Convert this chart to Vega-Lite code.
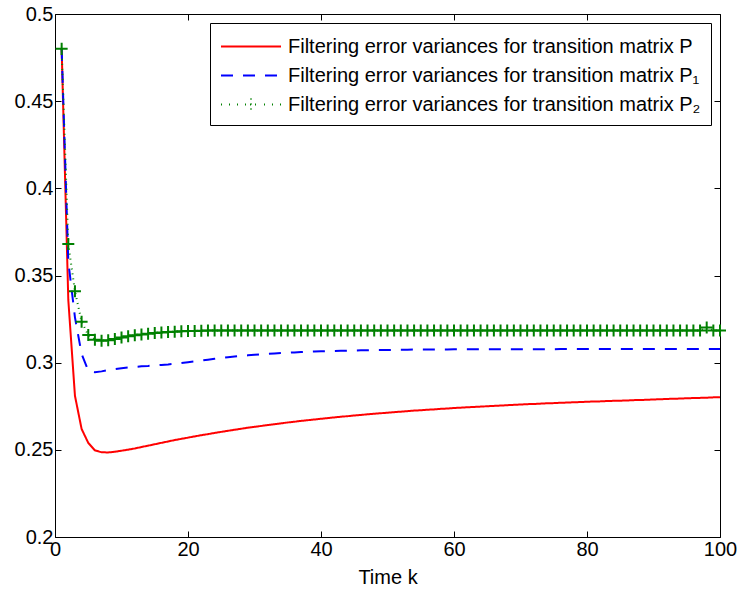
{
  "$schema": "https://vega.github.io/schema/vega-lite/v6.json",
  "width": 665,
  "height": 523,
  "autosize": "none",
  "padding": {"left": 55, "top": 14, "right": 17, "bottom": 53},
  "background": "white",
  "config": {
    "font": "Liberation Sans",
    "view": {"stroke": "black", "strokeWidth": 1},
    "axis": {
      "grid": false,
      "domainColor": "black",
      "tickColor": "black",
      "labelColor": "black",
      "titleColor": "black",
      "labelFont": "Liberation Sans",
      "titleFont": "Liberation Sans",
      "labelFontSize": 20,
      "titleFontSize": 20,
      "titleFontWeight": "normal"
    }
  },
  "data": {
    "values": [
      {"k":1,"a":0.480,"b":0.480,"c":0.480},
      {"k":2,"a":0.336,"b":0.358,"c":0.368},
      {"k":3,"a":0.281,"b":0.326,"c":0.341},
      {"k":4,"a":0.262,"b":0.305,"c":0.3235},
      {"k":5,"a":0.254,"b":0.2955,"c":0.3158},
      {"k":6,"a":0.2497,"b":0.2945,"c":0.3132},
      {"k":7,"a":0.2486,"b":0.2950,"c":0.3126},
      {"k":8,"a":0.2485,"b":0.2957,"c":0.3129},
      {"k":9,"a":0.2489,"b":0.2963,"c":0.3136},
      {"k":10,"a":0.2495,"b":0.2968,"c":0.3144},
      {"k":11,"a":0.2501,"b":0.2972,"c":0.3151},
      {"k":12,"a":0.2508,"b":0.2976,"c":0.3157},
      {"k":13,"a":0.2516,"b":0.2979,"c":0.3162},
      {"k":14,"a":0.2524,"b":0.2981,"c":0.3166},
      {"k":15,"a":0.2532,"b":0.2984,"c":0.3170},
      {"k":16,"a":0.2540,"b":0.2987,"c":0.3173},
      {"k":17,"a":0.2548,"b":0.2990,"c":0.3176},
      {"k":18,"a":0.2556,"b":0.2994,"c":0.3178},
      {"k":19,"a":0.2563,"b":0.2998,"c":0.3180},
      {"k":20,"a":0.2570,"b":0.3003,"c":0.3181},
      {"k":21,"a":0.2577,"b":0.3007,"c":0.3182},
      {"k":22,"a":0.2584,"b":0.3012,"c":0.3183},
      {"k":23,"a":0.2590,"b":0.3017,"c":0.3184},
      {"k":24,"a":0.2597,"b":0.3022,"c":0.3184},
      {"k":25,"a":0.2603,"b":0.3027,"c":0.3185},
      {"k":26,"a":0.2609,"b":0.3031,"c":0.3185},
      {"k":27,"a":0.2615,"b":0.3035,"c":0.3185},
      {"k":28,"a":0.2621,"b":0.3039,"c":0.3185},
      {"k":29,"a":0.2627,"b":0.3042,"c":0.3185},
      {"k":30,"a":0.2632,"b":0.3045,"c":0.3185},
      {"k":31,"a":0.2637,"b":0.3048,"c":0.3185},
      {"k":32,"a":0.2642,"b":0.3051,"c":0.3185},
      {"k":33,"a":0.2647,"b":0.3053,"c":0.3185},
      {"k":34,"a":0.2652,"b":0.3055,"c":0.3185},
      {"k":35,"a":0.2657,"b":0.3057,"c":0.3185},
      {"k":36,"a":0.2661,"b":0.3059,"c":0.3185},
      {"k":37,"a":0.2666,"b":0.3061,"c":0.3185},
      {"k":38,"a":0.2670,"b":0.3063,"c":0.3185},
      {"k":39,"a":0.2674,"b":0.3064,"c":0.3185},
      {"k":40,"a":0.2678,"b":0.3065,"c":0.3185},
      {"k":41,"a":0.2682,"b":0.3066,"c":0.3185},
      {"k":42,"a":0.2686,"b":0.3067,"c":0.3185},
      {"k":43,"a":0.2690,"b":0.3068,"c":0.3185},
      {"k":44,"a":0.2693,"b":0.3069,"c":0.3185},
      {"k":45,"a":0.2697,"b":0.3070,"c":0.3185},
      {"k":46,"a":0.2700,"b":0.3071,"c":0.3185},
      {"k":47,"a":0.2704,"b":0.3071,"c":0.3185},
      {"k":48,"a":0.2707,"b":0.3072,"c":0.3185},
      {"k":49,"a":0.2710,"b":0.3072,"c":0.3185},
      {"k":50,"a":0.2713,"b":0.3073,"c":0.3185},
      {"k":51,"a":0.2716,"b":0.3073,"c":0.3185},
      {"k":52,"a":0.2719,"b":0.3074,"c":0.3185},
      {"k":53,"a":0.2722,"b":0.3074,"c":0.3185},
      {"k":54,"a":0.2725,"b":0.3075,"c":0.3185},
      {"k":55,"a":0.2727,"b":0.3075,"c":0.3185},
      {"k":56,"a":0.2730,"b":0.3075,"c":0.3185},
      {"k":57,"a":0.2732,"b":0.3076,"c":0.3185},
      {"k":58,"a":0.2735,"b":0.3076,"c":0.3185},
      {"k":59,"a":0.2737,"b":0.3076,"c":0.3185},
      {"k":60,"a":0.2740,"b":0.3077,"c":0.3185},
      {"k":61,"a":0.2742,"b":0.3077,"c":0.3185},
      {"k":62,"a":0.2744,"b":0.3077,"c":0.3185},
      {"k":63,"a":0.2746,"b":0.3077,"c":0.3185},
      {"k":64,"a":0.2748,"b":0.3077,"c":0.3185},
      {"k":65,"a":0.2750,"b":0.3077,"c":0.3185},
      {"k":66,"a":0.2752,"b":0.3077,"c":0.3185},
      {"k":67,"a":0.2754,"b":0.3077,"c":0.3185},
      {"k":68,"a":0.2756,"b":0.3077,"c":0.3185},
      {"k":69,"a":0.2758,"b":0.3077,"c":0.3185},
      {"k":70,"a":0.2760,"b":0.3077,"c":0.3185},
      {"k":71,"a":0.2762,"b":0.3077,"c":0.3185},
      {"k":72,"a":0.2763,"b":0.3077,"c":0.3185},
      {"k":73,"a":0.2765,"b":0.3077,"c":0.3185},
      {"k":74,"a":0.2767,"b":0.3077,"c":0.3185},
      {"k":75,"a":0.2768,"b":0.3077,"c":0.3185},
      {"k":76,"a":0.2770,"b":0.3078,"c":0.3185},
      {"k":77,"a":0.2771,"b":0.3078,"c":0.3185},
      {"k":78,"a":0.2773,"b":0.3078,"c":0.3185},
      {"k":79,"a":0.2774,"b":0.3078,"c":0.3185},
      {"k":80,"a":0.2776,"b":0.3078,"c":0.3185},
      {"k":81,"a":0.2777,"b":0.3078,"c":0.3185},
      {"k":82,"a":0.2778,"b":0.3078,"c":0.3185},
      {"k":83,"a":0.2780,"b":0.3078,"c":0.3185},
      {"k":84,"a":0.2781,"b":0.3078,"c":0.3185},
      {"k":85,"a":0.2782,"b":0.3078,"c":0.3185},
      {"k":86,"a":0.2783,"b":0.3078,"c":0.3185},
      {"k":87,"a":0.2785,"b":0.3078,"c":0.3185},
      {"k":88,"a":0.2786,"b":0.3078,"c":0.3185},
      {"k":89,"a":0.2787,"b":0.3078,"c":0.3185},
      {"k":90,"a":0.2789,"b":0.3078,"c":0.3185},
      {"k":91,"a":0.2790,"b":0.3079,"c":0.3185},
      {"k":92,"a":0.2792,"b":0.3079,"c":0.3185},
      {"k":93,"a":0.2793,"b":0.3079,"c":0.3185},
      {"k":94,"a":0.2794,"b":0.3079,"c":0.3185},
      {"k":95,"a":0.2796,"b":0.3079,"c":0.3185},
      {"k":96,"a":0.2797,"b":0.3079,"c":0.3185},
      {"k":97,"a":0.2798,"b":0.3079,"c":0.3185},
      {"k":98,"a":0.2799,"b":0.3079,"c":0.3202},
      {"k":99,"a":0.2801,"b":0.3079,"c":0.3185},
      {"k":100,"a":0.2802,"b":0.3079,"c":0.3185}
    ]
  },
  "transform": [{"fold": ["a", "b", "c"], "as": ["s", "v"]}],
  "layer": [
    {
      "mark": {"type": "line", "clip": true},
      "encoding": {
        "x": {
          "field": "k", "type": "quantitative",
          "scale": {"domain": [0, 100], "nice": false},
          "axis": {"orient": "bottom", "values": [0, 20, 40, 60, 80, 100], "tickSize": -6, "labelPadding": 8, "title": "Time k", "titlePadding": 8, "labelFlush": false, "domain": false}
        },
        "y": {
          "field": "v", "type": "quantitative",
          "scale": {"domain": [0.2, 0.5], "nice": false, "zero": false},
          "axis": {"orient": "left", "values": [0.2, 0.25, 0.3, 0.35, 0.4, 0.45, 0.5], "format": "~g", "tickSize": -6, "labelPadding": 8, "title": null, "labelFlush": false, "domain": false}
        },
        "color": {
          "field": "s", "type": "nominal",
          "scale": {"domain": ["a", "b", "c"], "range": ["#ff0000", "#0000ff", "#008000"]},
          "legend": {
            "title": null,
            "orient": "top-right",
            "offset": 9,
            "fillColor": "white",
            "strokeColor": "black",
            "padding": 10,
            "labelFontSize": 20,
            "labelFont": "Liberation Sans",
            "labelColor": "black",
            "labelLimit": 0,
            "labelOffset": 41,
            "rowPadding": 5,
            "symbolType": "stroke",
            "symbolSize": 625,
            "symbolStrokeWidth": 2,
            "labelExpr": "datum.value == 'a' ? 'Filtering error variances for transition matrix P' : datum.value == 'b' ? 'Filtering error variances for transition matrix P₁' : 'Filtering error variances for transition matrix P₂'",
            "encode": {
              "symbols": {
                "update": {
                  "shape": [
                    {"test": "datum.value === 'c'", "value": "M-1,0h0.08M-0.36,0h0.08M0.28,0h0.08M2.44,0h0.08M3.08,0h0.08M3.72,0h0.08M0.92,0H1.88M1.4,-0.48V0.48"},
                    {"value": "M-1,0H3.8"}
                  ],
                  "strokeDash": [
                    {"test": "datum.value === 'b'", "value": [13, 10]},
                    {"value": [1, 0]}
                  ]
                }
              }
            }
          }
        },
        "strokeDash": {
          "field": "s", "type": "nominal",
          "scale": {"domain": ["a", "b", "c"], "range": [[1, 0], [12, 10], [1, 4]]},
          "legend": null
        },
        "strokeWidth": {
          "field": "s", "type": "nominal",
          "scale": {"domain": ["a", "b", "c"], "range": [2, 2, 1]},
          "legend": null
        }
      }
    },
    {
      "transform": [{"filter": "datum.s === 'c'"}],
      "mark": {"type": "point", "shape": "M-1,0H1M0,-1V1", "size": 144, "filled": false, "strokeWidth": 2, "color": "#008000", "opacity": 1, "clip": false},
      "encoding": {
        "x": {
          "field": "k", "type": "quantitative",
          "axis": {"orient": "top", "values": [0, 20, 40, 60, 80, 100], "tickSize": -6, "labels": false, "title": null, "domain": false}
        },
        "y": {
          "field": "v", "type": "quantitative",
          "axis": {"orient": "right", "values": [0.2, 0.25, 0.3, 0.35, 0.4, 0.45, 0.5], "tickSize": -6, "labels": false, "title": null, "domain": false}
        }
      }
    }
  ],
  "resolve": {"axis": {"x": "independent", "y": "independent"}}
}
